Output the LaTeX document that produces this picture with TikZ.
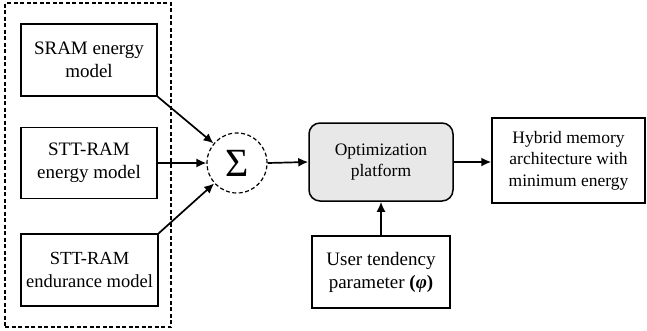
\documentclass[tikz,border=0pt]{standalone}
\usepackage{fontspec}
\setmainfont{Liberation Serif}
\usetikzlibrary{arrows.meta}
\begin{document}
\begin{tikzpicture}[x=1pt,y=-1pt,
  box/.style={draw, line width=1.5pt, align=center, inner sep=0pt, font=\fontsize{19}{23}\selectfont},
  dsh/.style={draw, line width=1.2pt, dash pattern=on 4pt off 2.5pt},
  arr/.style={line width=1.7pt, -{Latex[length=10pt,width=9pt]}}]
\useasboundingbox (0,0) rectangle (647,330);
\node[dsh, minimum width=166pt, minimum height=324pt, inner sep=0pt] (grp) at (88,165) {};
\node[box, minimum width=136pt, minimum height=72pt] (sram) at (89,60) {SRAM energy\\model};
\node[box, minimum width=136pt, minimum height=71pt] (stte) at (89,163) {STT-RAM\\energy model};
\node[box, minimum width=137pt, minimum height=72pt, font=\fontsize{18.5}{23}\selectfont] (sttd) at (89.5,270) {STT-RAM\\endurance model};
\node[dsh, circle, minimum size=60pt, inner sep=0pt, font=\fontsize{40}{44}\selectfont] (sig) at (237,163) {Σ};
\node[box, minimum width=144pt, minimum height=78pt, rounded corners=11pt, fill=gray!18, font=\fontsize{17.5}{21}\selectfont] (opt) at (381,162) {Optimization\\platform};
\node[box, minimum width=153pt, minimum height=85pt, font=\fontsize{17.5}{21.5}\selectfont] (hyb) at (568.5,160.5) {Hybrid memory\\architecture with\\minimum energy};
\node[box, minimum width=138pt, minimum height=72pt] (user) at (381,272) {User tendency\\parameter \textbf{(\textit{φ})}};
\draw[arr] (sram.south east) -- (sig);
\draw[arr] (stte.east) -- (sig.west);
\draw[arr] (sttd.north east) -- (sig);
\draw[arr] (sig.east) -- (opt.west);
\draw[arr] (opt.east) -- (opt.east -| hyb.west);
\draw[arr] (user.north) -- (opt.south);
\end{tikzpicture}
\end{document}
